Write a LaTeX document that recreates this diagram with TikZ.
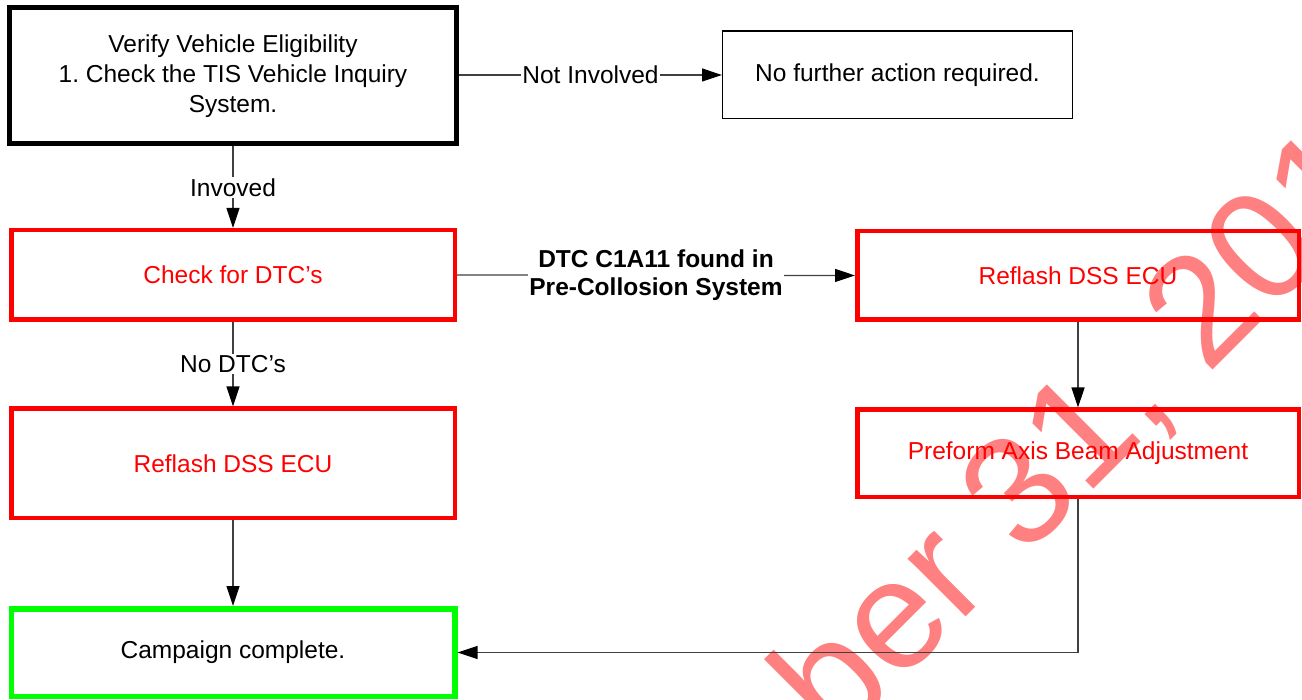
\documentclass[tikz,border=0pt]{standalone}
\usepackage{fontspec}
\setmainfont{Liberation Sans}
\usetikzlibrary{arrows.meta,calc}
\definecolor{wmark}{HTML}{FF8080}
\definecolor{boxred}{HTML}{FF0000}
\definecolor{boxgreen}{HTML}{00FF00}
\definecolor{linegray}{HTML}{404040}
\tikzset{
  basebox/.style={draw, rectangle, align=center, inner sep=2pt,
    font=\fontsize{24.5}{30}\selectfont},
  blackbox/.style={basebox, draw=black, line width=5pt},
  thinbox/.style={basebox, draw=black, line width=1.3pt},
  redbox/.style={basebox, draw=boxred, line width=4.5pt, text=boxred},
  greenbox/.style={basebox, draw=boxgreen, line width=5.5pt},
  conn/.style={draw=linegray, line width=1.2pt,
    -{Triangle[length=20pt,width=13pt,color=black]}},
  lbl/.style={fill=white, inner sep=1.5pt, align=center,
    font=\fontsize{24.5}{29}\selectfont},
  boldlbl/.style={lbl, font=\fontsize{24.5}{28.5}\selectfont\bfseries}
}
\begin{document}
\begin{tikzpicture}[x=1pt,y=-1pt]
\path[use as bounding box] (0,0) rectangle (1302,700);
\begin{scope}
\clip (0,0) rectangle (1302,700);
\node[anchor=base west, rotate=45, text=wmark, inner sep=0pt,
  font=\fontsize{155}{155}\selectfont] (wm) at (836,747) {ber 31, 201};
\end{scope}

\node[blackbox, minimum width=447, minimum height=136] (verify) at (233,76)
  {Verify Vehicle Eligibility\\1.\ Check the TIS Vehicle Inquiry\\System.};
\node[thinbox, minimum width=349.7, minimum height=87.7] (nofurther) at (897.5,75)
  {No further action required.};
\node[redbox, minimum width=443.5, minimum height=89.5] (check) at (233,275)
  {Check for DTC’s};
\node[redbox, minimum width=443.5, minimum height=109.5] (reflashL) at (233,463.5)
  {Reflash DSS ECU};
\node[greenbox, minimum width=443.5, minimum height=87.5] (campaign) at (233,652.5)
  {Campaign complete.};
\node[redbox, minimum width=441.5, minimum height=88.5] (reflashR) at (1078,275.5)
  {Reflash DSS ECU};
\node[redbox, minimum width=441.5, minimum height=87.5] (preform) at (1078,453.5)
  {Preform Axis Beam Adjustment};

\draw[conn] (verify.east |- nofurther.west) -- node[lbl, name=lnot] {Not Involved} (nofurther.west);
\draw[conn] (verify.south) -- node[lbl, name=linv] {Invoved} (check.north);
\draw[conn] (check.south) -- node[lbl, name=lnodtc] {No DTC’s} (reflashL.north);
\draw[conn] (check.east) -- node[boldlbl, name=ldtc] {DTC C1A11 found in\\Pre-Collosion System} (reflashR.west);
\draw[conn] (reflashR.south) -- (preform.north);
\draw[conn] (reflashL.south) -- (campaign.north);
\draw[conn] (preform.south) |- (campaign.east);
\end{tikzpicture}
\end{document}
